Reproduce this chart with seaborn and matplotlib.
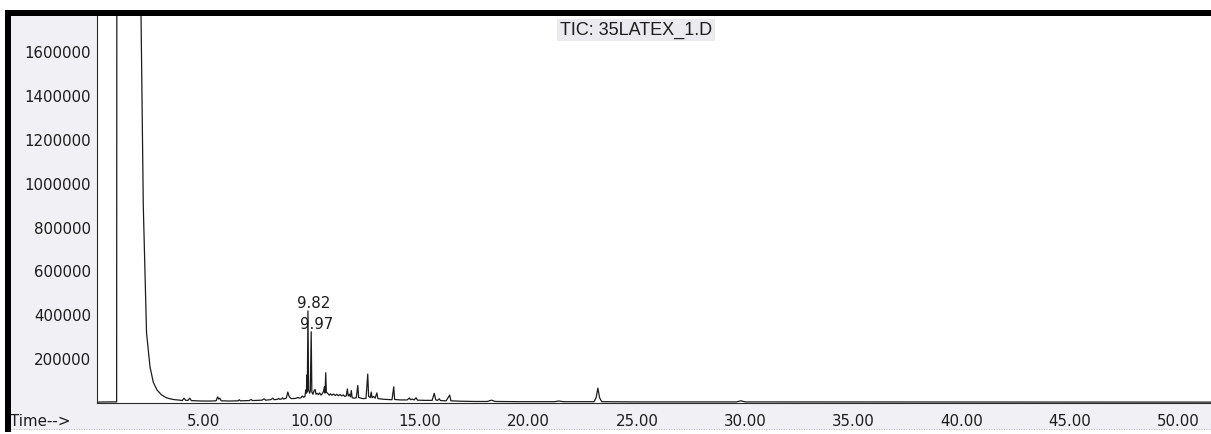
import matplotlib
matplotlib.use("Agg")
import matplotlib.pyplot as plt
from matplotlib.patches import Rectangle
from matplotlib.lines import Line2D
from matplotlib.ticker import MultipleLocator, FixedLocator, FuncFormatter
import seaborn as sns
import pandas as pd

# ---- TIC trace (retention time in min, abundance in counts) ----
tic_time = [
    0.07, 0.6, 0.99, 1.0, 2.1, 2.22, 2.37, 2.53, 2.68, 2.85, 3.05, 3.3, 3.6, 3.9,
    4.02, 4.1, 4.18, 4.28, 4.36, 4.44, 4.9, 5.3, 5.58, 5.65, 5.7, 5.75, 5.82,
    6.2, 6.6, 6.65, 6.7, 7.1, 7.2, 7.26, 7.7, 7.8, 7.86, 8.1, 8.2, 8.26,
    8.42, 8.47, 8.52, 8.6, 8.65, 8.7, 8.82, 8.89, 8.96, 9.05, 9.25, 9.35, 9.42,
    9.5, 9.56, 9.62, 9.68, 9.72, 9.75, 9.77, 9.79, 9.82, 9.85, 9.9, 9.93, 9.97,
    10.0, 10.05, 10.1, 10.15, 10.19, 10.25, 10.3, 10.36, 10.42, 10.48, 10.53,
    10.58, 10.61, 10.64, 10.67, 10.73, 10.8, 10.86, 10.92, 11.0, 11.08, 11.15,
    11.22, 11.3, 11.38, 11.45, 11.52, 11.59, 11.64, 11.68, 11.74, 11.78, 11.82,
    11.86, 11.95, 12.05, 12.12, 12.16, 12.27, 12.35, 12.5, 12.58, 12.62, 12.7,
    12.74, 12.78, 12.85, 12.92, 13.0, 13.05, 13.3, 13.7, 13.78, 13.82, 14.1,
    14.4, 14.5, 14.55, 14.65, 14.72, 14.81, 14.87, 15.2, 15.55, 15.65, 15.72,
    15.8, 15.88, 15.94, 16.2, 16.36, 16.42, 16.9, 17.5, 18.1, 18.3, 18.45,
    19.5, 21.2, 21.4, 21.6, 23.02, 23.12, 23.2, 23.28, 23.38, 25.0, 29.6, 29.8,
    30.0, 35.0, 40.0, 45.0, 51.5,
]
tic_abundance = [
    4000, 5000, 5000, 1900000, 1900000, 900000, 320000, 165000, 95000, 60000, 38000, 23000, 16000, 13000,
    11000, 22000, 12000, 12000, 22000, 11000, 9000, 9000, 10000, 28000, 18000, 22000, 10000,
    9000, 10000, 15000, 10000, 11000, 16000, 11000, 13000, 19000, 13000, 15000, 22000, 15000,
    17000, 21000, 17000, 18000, 24000, 18000, 22000, 50000, 28000, 20000, 21000, 25000, 22000,
    24000, 32000, 26000, 30000, 60000, 45000, 128000, 50000, 420000, 60000, 45000, 55000, 325000,
    50000, 40000, 55000, 62000, 40000, 44000, 38000, 46000, 36000, 42000, 51000,
    74000, 45000, 138000, 50000, 44000, 36000, 42000, 35000, 41000, 34000, 40000,
    33000, 39000, 32000, 37000, 30000, 33000, 64000, 32000, 40000, 28000, 57000,
    24000, 22000, 24000, 80000, 25000, 22000, 20000, 21000, 132000, 30000, 25000,
    50000, 24000, 30000, 22000, 46000, 20000, 17000, 15000, 74000, 16000, 14000,
    14000, 23000, 15000, 18000, 14000, 24000, 13000, 12000, 12000, 44000, 14000,
    12000, 19000, 11000, 10000, 36000, 10000, 8000, 7000, 7000, 13000, 7000,
    6000, 6000, 9000, 6000, 6000, 24000, 68000, 24000, 6000, 5000, 5000, 10000,
    5000, 4500, 4500, 4500, 4000,
]

# labelled peaks
peak_rt = [9.82, 9.97]
peak_abundance = [420000, 325000]
peak_labels = ["9.82", "9.97"]

x_ticks = [5, 10, 15, 20, 25, 30, 35, 40, 45, 50]
y_ticks = [200000, 400000, 600000, 800000, 1000000, 1200000, 1400000, 1600000]
title_text = "TIC: 35LATEX_1.D"
x_caption = "Time-->"

sns.set_style("white")
plt.rcParams["font.family"] = ["DejaVu Sans"]

W, H = 1211, 434
fig = plt.figure(figsize=(W / 100, H / 100), dpi=100, facecolor="white")

# printout panel and its heavy frame edges
fig.patches.append(Rectangle((11 / W, 1 - 430 / H), 1 - 11 / W, (430 - 16) / H,
                             transform=fig.transFigure, facecolor="#f1f0f4",
                             edgecolor="none", zorder=-2))
fig.patches.append(Rectangle((5 / W, 1 - 16 / H), 1 - 5 / W, 6 / H,
                             transform=fig.transFigure, facecolor="black",
                             edgecolor="none", zorder=5))
fig.patches.append(Rectangle((5 / W, 1 - 432 / H), 6 / W, (432 - 10) / H,
                             transform=fig.transFigure, facecolor="black",
                             edgecolor="none", zorder=5))
fig.add_artist(Line2D([11 / W, 1], [1 - 429 / H] * 2, transform=fig.transFigure,
                      ls=(0, (1, 2)), color="#a8a8a8", lw=0.6))

ax = fig.add_axes([96.7 / W, 1 - 403 / H, 1 - 96.7 / W, 387 / H])
ax.set_facecolor("white")

df = pd.DataFrame({"time": tic_time, "abundance": tic_abundance})
sns.lineplot(data=df, x="time", y="abundance", estimator=None, sort=False,
             color="#1c1c1c", linewidth=0.9, ax=ax)

ax.set_xlim(0.07, 51.5)
ax.set_ylim(0, 1765000)
ax.set_xlabel("")
ax.set_ylabel("")

for s in ("top", "right"):
    ax.spines[s].set_visible(False)
for s in ("left", "bottom"):
    ax.spines[s].set_color("#2a2a2a")
    ax.spines[s].set_linewidth(0.8)

ax.xaxis.set_major_locator(FixedLocator(x_ticks))
ax.xaxis.set_minor_locator(MultipleLocator(1))
ax.xaxis.set_major_formatter(FuncFormatter(lambda v, p: f"{v:.2f}"))
ax.yaxis.set_major_locator(FixedLocator(y_ticks))
ax.yaxis.set_minor_locator(MultipleLocator(50000))
ax.yaxis.set_major_formatter(FuncFormatter(lambda v, p: f"{int(v)}"))

ax.tick_params(axis="x", which="major", direction="out", length=5, width=0.8,
               pad=3, labelsize=10.8, colors="#1c1c1c")
ax.tick_params(axis="x", which="minor", direction="out", length=3, width=0.7,
               colors="#1c1c1c")
ax.tick_params(axis="y", which="major", direction="out", length=2.5, width=0.8,
               pad=1.5, labelsize=10.8, colors="#1c1c1c")
ax.tick_params(axis="y", which="minor", direction="out", length=1.5, width=0.6,
               colors="#1c1c1c")

for rt, ab, lab in zip(peak_rt, peak_abundance, peak_labels):
    ax.annotate(lab, xy=(rt, ab), xytext=(4, 2), textcoords="offset points",
                ha="center", va="baseline", fontsize=10.8, color="#1c1c1c")

fig.text(636 / W, 1 - 30 / H, title_text, ha="center", va="center",
         family="Liberation Sans", fontsize=13, color="#1c1c1c",
         bbox=dict(facecolor="#ebebef", edgecolor="none", pad=2))
fig.text(10 / W, 1 - 421 / H, x_caption, ha="left", va="center",
         fontsize=10.8, color="#1c1c1c")

fig.savefig("out.png", dpi=100, facecolor=fig.get_facecolor())
